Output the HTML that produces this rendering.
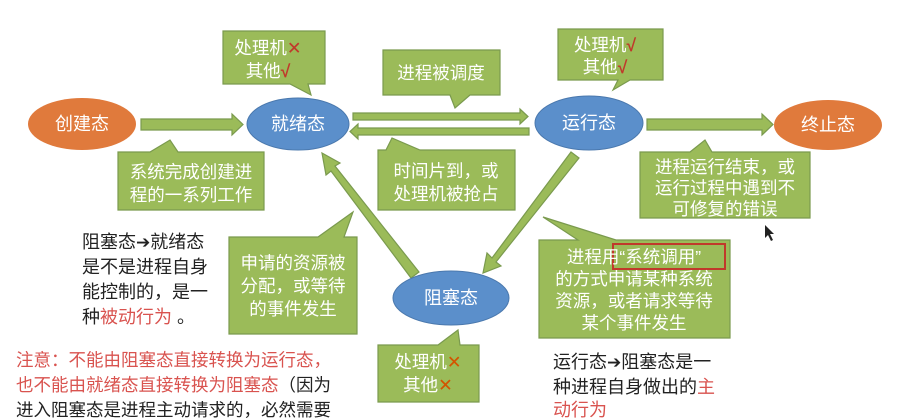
<!DOCTYPE html>
<html><head><meta charset="utf-8"><style>
body{margin:0;width:898px;height:418px;overflow:hidden;background:#fff}
svg{display:block}
text{font-family:"Liberation Sans","Noto Sans CJK SC",sans-serif}
</style></head><body>
<svg width="898" height="418" viewBox="0 0 898 418" xmlns="http://www.w3.org/2000/svg">
<defs>
<style>
.g{fill:#9bbb59;stroke:#7a9a4e;stroke-width:1.2}
.w{fill:#fff;font-size:17.5px;text-anchor:middle}
.o{fill:#e07a3c}
.b{fill:#5b8fcb;stroke:#4a78ad;stroke-width:1}
.st{fill:#fff;font-size:18px;text-anchor:middle}
.k{fill:#222;font-size:18px}
.r{fill:#d9534f}
.ar{font-family:"DejaVu Sans",sans-serif;font-weight:bold}
</style>
</defs>
<!-- callouts -->
<path class="g" d="M223,31 H325 V84 H308 L311,95 L290,84 H223 Z"/>
<text class="w" x="268" y="54">处理机<tspan fill="#c0392b">✕</tspan></text>
<text class="w" x="268" y="77">其他<tspan fill="#c0392b" font-weight="bold">√</tspan></text>

<path class="g" d="M383,50 H500 V95 H470 L455,108 L450,95 H383 Z"/>
<text class="w" x="441" y="79">进程被调度</text>

<path class="g" d="M558,29 H663 V80 H630 L613,90 L618,80 H558 Z"/>
<text class="w" x="605" y="51">处理机<tspan fill="#c0392b" font-weight="bold">√</tspan></text>
<text class="w" x="605" y="73">其他<tspan fill="#c0392b" font-weight="bold">√</tspan></text>

<path class="g" d="M118,152 H150 L170,140 L178,152 H264 V210 H118 Z"/>
<text class="w" x="191" y="178">系统完成创建进</text>
<text class="w" x="191" y="201">程的一系列工作</text>

<path class="g" d="M378,150 H386 L392,138 L420,150 H515 V210 H378 Z"/>
<text class="w" x="446" y="177">时间片到，或</text>
<text class="w" x="446" y="200">处理机被抢占</text>

<path class="g" d="M640,152 H690 L705,140 L712,152 H810 V218 H640 Z"/>
<text class="w" x="725" y="173">进程运行结束，或</text>
<text class="w" x="725" y="194">运行过程中遇到不</text>
<text class="w" x="725" y="215">可修复的错误</text>

<path class="g" d="M229,237 H318 L353,212 L344,237 H357 V334 H229 Z"/>
<text class="w" x="293" y="269">申请的资源被</text>
<text class="w" x="293" y="292">分配，或等待</text>
<text class="w" x="293" y="315">的事件发生</text>

<path class="g" d="M378,345 H438 L458,330 L460,345 H479 V402 H378 Z"/>
<text class="w" x="428" y="368">处理机<tspan fill="#d35400">✕</tspan></text>
<text class="w" x="428" y="391">其他<tspan fill="#d35400">✕</tspan></text>

<path class="g" d="M539,240 H578 L543,217 L616,240 H730 V338 H539 Z"/>
<rect x="613" y="244" width="112" height="25" fill="none" stroke="#c0392b" stroke-width="2"/>
<text class="w" x="634" y="263">进程用“系统调用”</text>
<text class="w" x="634" y="285">的方式申请某种系统</text>
<text class="w" x="634" y="307">资源，或者请求等待</text>
<text class="w" x="634" y="329">某个事件发生</text>

<!-- arrows -->
<path class="g" d="M141,119 H232 V114 L243,124.5 L232,135 V130 H141 Z"/>
<path class="g" d="M353,113 H520 V109 L528,116.5 L520,124 V120 H353 Z"/>
<path class="g" d="M529,128 H358 V124 L350,131.5 L358,139 V135 H529 Z"/>
<path class="g" d="M647,119 H762 V114 L773,124.5 L762,135 V130 H647 Z"/>
<path class="g" d="M571,152 L579,158 L496,262 L501,266 L483,273 L487,253 L492,258 Z"/>
<path class="g" d="M419,272 L411,278 L331,171 L326,175 L322,153 L340,163 L335,166 Z"/>

<!-- states -->
<ellipse class="o" cx="82" cy="124" rx="54" ry="26"/>
<text class="st" x="82" y="130">创建态</text>
<ellipse class="b" cx="298" cy="124" rx="51" ry="26"/>
<text class="st" x="298" y="130">就绪态</text>
<ellipse class="b" cx="589" cy="123" rx="54" ry="27"/>
<text class="st" x="589" y="129">运行态</text>
<ellipse class="o" cx="828" cy="125" rx="54" ry="25"/>
<text class="st" x="828" y="131">终止态</text>
<ellipse class="b" cx="451" cy="298" rx="58" ry="27"/>
<text class="st" x="451" y="304">阻塞态</text>

<!-- notes -->
<text class="k" x="82" y="248">阻塞态<tspan class="ar" font-size="17">➔</tspan>就绪态</text>
<text class="k" x="82" y="273">是不是进程自身</text>
<text class="k" x="82" y="298">能控制的，是一</text>
<text class="k" x="82" y="323">种<tspan class="r">被动行为</tspan> 。</text>

<text class="k r" x="16" y="366" style="font-size:17.5px">注意：不能由阻塞态直接转换为运行态，</text>
<text class="k" x="16" y="391" style="font-size:17.5px"><tspan class="r">也不能由就绪态直接转换为阻塞态</tspan>（因为</text>
<text class="k" x="16" y="416" style="font-size:17.5px">进入阻塞态是进程主动请求的，必然需要</text>

<text class="k" x="553" y="368">运行态<tspan class="ar" font-size="17">➔</tspan>阻塞态是一</text>
<text class="k" x="553" y="393">种进程自身做出的<tspan class="r">主</tspan></text>
<text class="k r" x="553" y="416">动行为</text>

<path d="M765,225 L765,238 L768,235 L771,241 L773,240 L770,234 L774,234 Z" fill="#222"/>
</svg>
</body></html>
